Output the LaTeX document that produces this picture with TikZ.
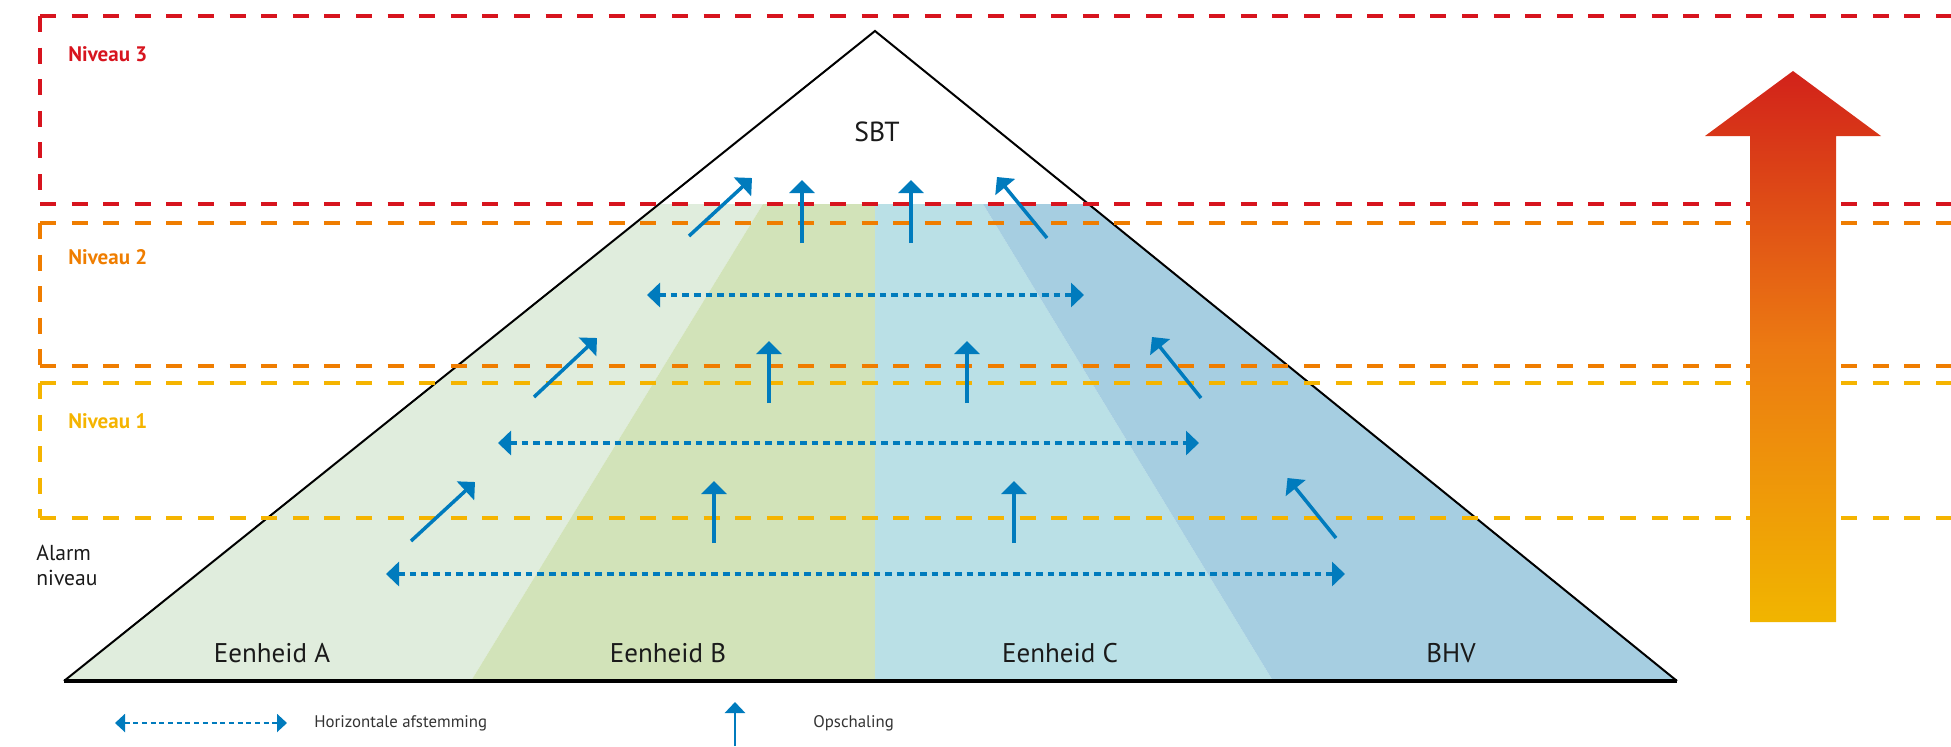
\documentclass[tikz,border=0pt]{standalone}
\usepackage{fontspec}
\setmainfont{PT Sans}
\usetikzlibrary{arrows.meta}
\definecolor{nred}{HTML}{D7141E}
\definecolor{norange}{HTML}{EF7D00}
\definecolor{nyellow}{HTML}{F5B400}
\definecolor{fa}{HTML}{E0EDDD}
\definecolor{fb}{HTML}{D2E3B9}
\definecolor{fc}{HTML}{BAE0E6}
\definecolor{fd}{HTML}{A6CEE1}
\definecolor{ablue}{HTML}{007BBD}
\definecolor{gred}{HTML}{D2221A}
\definecolor{gorg}{HTML}{EC7A12}
\definecolor{gyel}{HTML}{F1B500}
\definecolor{txt}{HTML}{1A1A1A}
\definecolor{legtxt}{HTML}{333333}
\tikzset{
  lvl/.style={line width=2pt, dash pattern=on 8pt off 7.8pt},
  upar/.style={ablue, line width=1.75pt, -{Triangle[length=6.5pt,width=12.5pt]}},
  hzar/.style={ablue, line width=1.9pt, dash pattern=on 3.3pt off 2.5pt,
    {Triangle[length=6.5pt,width=12pt]}-{Triangle[length=6.5pt,width=12pt]}},
  lvllabel/.style={anchor=west, font=\fontsize{10.5pt}{12pt}\selectfont\bfseries, inner sep=0pt},
  unitlabel/.style={font=\fontsize{13.5pt}{15pt}\selectfont, text=txt, inner sep=0pt},
  leglabel/.style={anchor=west, font=\fontsize{8.4pt}{10pt}\selectfont, text=legtxt, inner sep=0pt}
}
\begin{document}
\begin{tikzpicture}[x=0.5pt,y=-0.5pt]
\useasboundingbox (0,0) rectangle (1951,746);
% coordinates
\coordinate (apex) at (875,31);
\coordinate (bl) at (64,681);
\coordinate (br) at (1677,681);
% fills
\fill[fa] (64,681) -- (658.4,204) -- (763,204) -- (471,681) -- cycle;
\fill[fb] (471,681) -- (763,204) -- (875,204) -- (875,681) -- cycle;
\fill[fc] (875,204) -- (983,204) -- (1273,681) -- (875,681) -- cycle;
\fill[fd] (983,204) -- (1087.4,204) -- (1677,681) -- (1273,681) -- cycle;
% triangle
\draw[line width=1pt, line join=miter] (bl) -- (apex) -- (br);
\draw[line width=1.6pt] (bl) -- (br);
% level boxes
\draw[lvl, nred] (40,16) -- (1951,16);
\draw[lvl, nred] (40,16) -- (40,204);
\draw[lvl, nred] (40,204) -- (1951,204);
\draw[lvl, norange] (40,223) -- (1951,223);
\draw[lvl, norange] (40,223) -- (40,366);
\draw[lvl, norange] (40,366) -- (1951,366);
\draw[lvl, nyellow] (40,383) -- (1951,383);
\draw[lvl, nyellow] (40,383) -- (40,518);
\draw[lvl, nyellow] (40,518) -- (1951,518);
% level labels
\node[lvllabel, text=nred] (n3) at (68,54) {Niveau 3};
\node[lvllabel, text=norange] (n2) at (68,257) {Niveau 2};
\node[lvllabel, text=nyellow] (n1) at (68,421) {Niveau 1};
\node[anchor=west, align=left, font=\fontsize{10.8pt}{12.5pt}\selectfont, text=txt, inner sep=0pt] (n0) at (36,565) {Alarm\\niveau};
% unit labels
\node[unitlabel, font=\fontsize{13.8pt}{15pt}\selectfont] (sbt) at (877,132) {SBT};
\node[unitlabel] (ea) at (272,653) {Eenheid A};
\node[unitlabel] (eb) at (668,653) {Eenheid B};
\node[unitlabel] (ec) at (1060,653) {Eenheid C};
\node[unitlabel] (bhv) at (1451,653) {BHV};
% arrow end points
\coordinate (a1s) at (689,236);  \coordinate (a1e) at (752,178);
\coordinate (a2s) at (802,243);  \coordinate (a2e) at (802,180);
\coordinate (a3s) at (911,243);  \coordinate (a3e) at (911,180);
\coordinate (a4s) at (1047,238); \coordinate (a4e) at (997,177);
\coordinate (a5s) at (534,397);  \coordinate (a5e) at (597,338);
\coordinate (a6s) at (769,403);  \coordinate (a6e) at (769,341);
\coordinate (a7s) at (967,403);  \coordinate (a7e) at (967,341);
\coordinate (a8s) at (1201,398); \coordinate (a8e) at (1152,337);
\coordinate (a9s) at (411,541);  \coordinate (a9e) at (475,482);
\coordinate (a10s) at (714,543); \coordinate (a10e) at (714,481);
\coordinate (a11s) at (1014,543);\coordinate (a11e) at (1014,481);
\coordinate (a12s) at (1336,538);\coordinate (a12e) at (1287.5,478);
\coordinate (h2l) at (647,295);  \coordinate (h2r) at (1084,295);
\coordinate (h1l) at (498,443);  \coordinate (h1r) at (1199,443);
\coordinate (h0l) at (386,574);  \coordinate (h0r) at (1345,574);
% escalation arrows
\foreach \i in {1,...,12} { \draw[upar] (a\i s) -- (a\i e); }
% horizontal coordination
\draw[hzar] (h2l) -- (h2r);
\draw[hzar] (h1l) -- (h1r);
\draw[hzar] (h0l) -- (h0r);
% big gradient arrow
\shade[top color=gred, bottom color=gyel, middle color=gorg]
  (1750,622) -- (1750,136) -- (1705,136) -- (1793,71) -- (1881,136) -- (1836,136) -- (1836,622) -- cycle;
% legend
\coordinate (lgl) at (115,723); \coordinate (lgr) at (287,723);
\draw[ablue, line width=1pt, dash pattern=on 2.5pt off 1.85pt,
  {Triangle[length=5pt,width=9pt]}-{Triangle[length=5pt,width=9pt]}] (lgl) -- (lgr);
\node[leglabel] (lh) at (314,723) {Horizontale afstemming};
\coordinate (lvb) at (735,746); \coordinate (lvt) at (735,702);
\draw[ablue, line width=1.35pt, -{Triangle[length=5.5pt,width=10pt]}] (lvb) -- (lvt);
\node[leglabel] (lo) at (813,723) {Opschaling};
\end{tikzpicture}
\end{document}
